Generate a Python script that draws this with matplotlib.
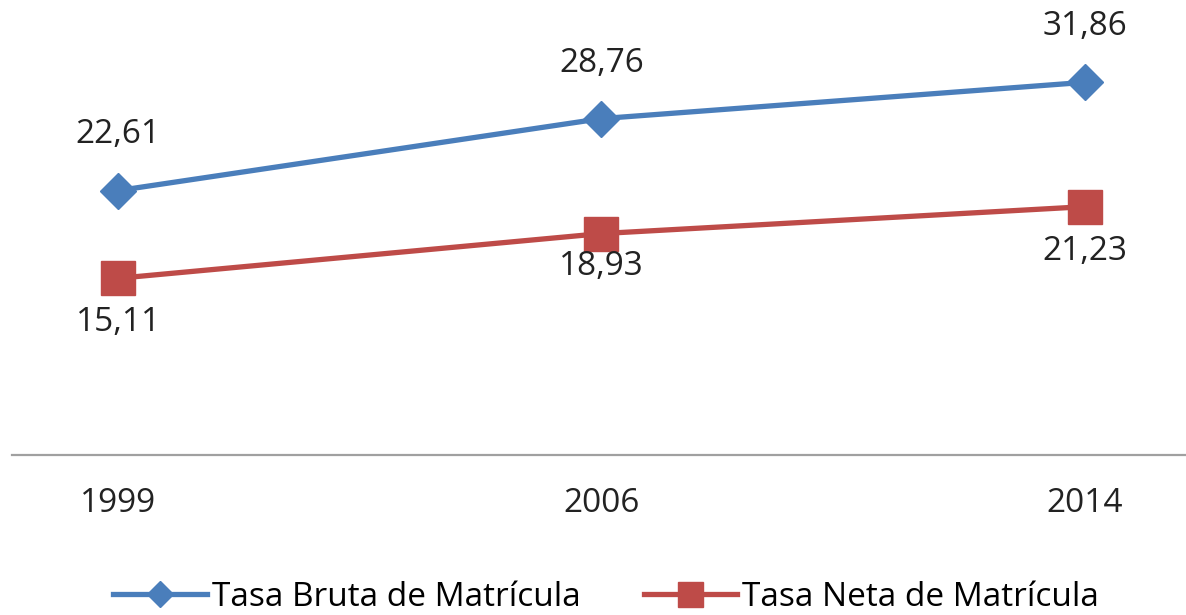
import matplotlib.pyplot as plt

years = ["1999", "2006", "2014"]
tasa_bruta = [22.61, 28.76, 31.86]
tasa_neta = [15.11, 18.93, 21.23]
label_bruta = "Tasa Bruta de Matrícula"
label_neta = "Tasa Neta de Matrícula"

blue = "#4a7ebb"
red = "#be4b48"

plt.rcParams['font.family'] = ['Open Sans', 'DejaVu Sans']
fs = 24

fig = plt.figure(figsize=(11.86, 6.15), dpi=100)
ax = fig.add_axes([12 / 1186, 160 / 615, 1 - 12 / 1186, 455 / 615])

x = list(range(len(years)))
ax.plot(x, tasa_bruta, color=blue, lw=3.8, marker='D', ms=18, label=label_bruta)
ax.plot(x, tasa_neta, color=red, lw=3.8, marker='s', ms=24, label=label_neta)

def fmt(v):
    return ("%.2f" % v).replace(".", ",")

for xi, v in zip(x, tasa_bruta):
    ax.annotate(fmt(v), (xi, v), xytext=(0, 40), textcoords='offset points',
                ha='center', va='center', fontsize=fs, color='#222222')

neta_offsets = [-32, -24, -32]
for xi, v, off in zip(x, tasa_neta, neta_offsets):
    ax.annotate(fmt(v), (xi, v), xytext=(0, off), textcoords='offset points',
                ha='center', va='center', fontsize=fs, color='#222222')

ax.set_xlim(-0.22, 2.21)
ax.set_ylim(0, 38.9)
ax.set_xticks(x)
ax.set_xticklabels(years, fontsize=fs, color='#222222')
ax.tick_params(axis='x', length=0, pad=23)
ax.set_yticks([])
for s in ['top', 'right', 'left']:
    ax.spines[s].set_visible(False)
ax.spines['bottom'].set_color('#a0a0a0')
ax.spines['bottom'].set_linewidth(1.6)

fig.legend(loc='center', bbox_to_anchor=(0.511, 1 - 597 / 615), ncol=2, frameon=False,
           fontsize=fs, handlelength=2.8, handletextpad=0.15, columnspacing=1.9,
           markerscale=0.75, borderaxespad=0)

fig.savefig("out.png", dpi=100)
